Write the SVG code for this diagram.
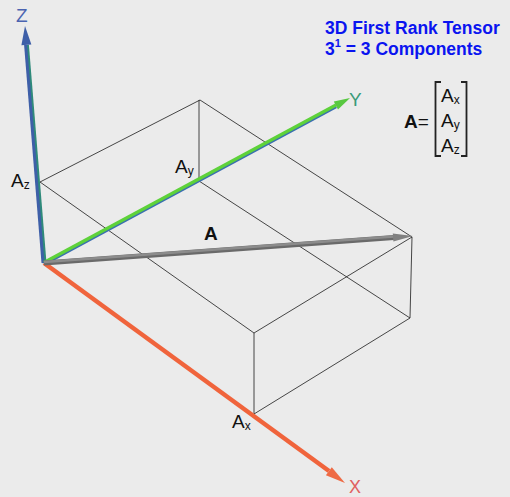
<svg xmlns="http://www.w3.org/2000/svg" width="510" height="497" viewBox="0 0 510 497">
<defs>
<style>
.edge{stroke:#1a1a1a;stroke-width:0.8;fill:none}
.lbl{font-family:"Liberation Sans",Arial,sans-serif;font-size:19px;fill:#111}
.sub{font-size:12px}
.title{font-family:"Liberation Sans",Arial,sans-serif;font-size:17.5px;font-weight:bold;fill:#0a14f0}
.br{stroke:#222;stroke-width:1.8;fill:none}
</style>
</defs>
<rect x="0" y="0" width="510" height="497" fill="#ebebeb"/>
<g id="box">
<line class="edge" x1="40" y1="182" x2="200" y2="100"/>
<line class="edge" x1="200" y1="100" x2="412" y2="237"/>
<line class="edge" x1="40" y1="182" x2="254" y2="333"/>
<line class="edge" x1="254" y1="333" x2="412" y2="237"/>
<line class="edge" x1="199" y1="181" x2="199" y2="100"/>
<line class="edge" x1="199" y1="181" x2="410" y2="318"/>
<line class="edge" x1="412" y1="237" x2="410" y2="318"/>
<line class="edge" x1="254" y1="414" x2="410" y2="318"/>
<line class="edge" x1="254" y1="414" x2="254" y2="333"/>
</g>
<g id="connectors">
<g id="z-axis">
<line x1="44.5" y1="263" x2="26.9" y2="45" stroke="#2f8a7a" stroke-width="4"/>
<line x1="43" y1="263" x2="25.6" y2="45" stroke="#3e5fa8" stroke-width="3"/>
<polygon points="25,26 31.4,44.5 21.4,45.3" fill="#3e5fa8"/>
</g>
<g id="y-axis">
<line x1="44" y1="263.8" x2="336" y2="106.3" stroke="#3a6fb0" stroke-width="4"/>
<line x1="44" y1="262.5" x2="336" y2="105" stroke="#5ed23a" stroke-width="3.2"/>
<polygon points="350,98 338,109.6 333.8,101.6" fill="#58c840"/>
</g>
<g id="x-axis">
<line x1="44" y1="263" x2="329" y2="471" stroke="#f0643c" stroke-width="4.5"/>
<polygon points="345,483 325.9,475.2 331.8,467.2" fill="#ee6a44"/>
</g>
<g id="a-vector">
<line x1="44" y1="263" x2="394" y2="237.5" stroke="#6a6a6a" stroke-width="5"/>
<line x1="44" y1="262" x2="394" y2="236.5" stroke="#8c8c8c" stroke-width="2.5"/>
<polygon points="413,236 393.4,241.5 392.8,233.5" fill="#808080"/>
</g>
</g>
<g id="axis-labels">
<text x="16" y="22" font-family="Liberation Sans,Arial,sans-serif" font-size="19" fill="#4a63b0">Z</text>
<text x="349" y="106" font-family="Liberation Sans,Arial,sans-serif" font-size="19" fill="#3a9a78">Y</text>
<text x="349" y="493" font-family="Liberation Sans,Arial,sans-serif" font-size="18" fill="#e06060">X</text>
</g>
<g id="component-labels">
<text class="lbl" x="11" y="187">A<tspan class="sub" dy="2">z</tspan></text>
<text class="lbl" x="175" y="173">A<tspan class="sub" dy="2">y</tspan></text>
<text class="lbl" x="232" y="428">A<tspan class="sub" dy="2">x</tspan></text>
<text class="lbl" x="204" y="240" font-weight="bold" font-size="17">A</text>
</g>
<g id="title">
<text class="title" x="325" y="34">3D First Rank Tensor</text>
<text class="title" x="325" y="55">3<tspan font-size="11" dy="-8">1</tspan><tspan dy="8"> = 3 Components</tspan></text>
</g>
<g id="matrix">
<text class="lbl" x="404" y="128" font-size="18"><tspan font-weight="bold">A</tspan>=</text>
<path class="br" d="M441,82 H435.5 V156 H441"/>
<path class="br" d="M461,82 H466.5 V156 H461"/>
<text class="lbl" x="441" y="102" font-size="18">A<tspan class="sub" dy="2">x</tspan></text>
<text class="lbl" x="441" y="127" font-size="18">A<tspan class="sub" dy="2">y</tspan></text>
<text class="lbl" x="441" y="152" font-size="18">A<tspan class="sub" dy="2">z</tspan></text>
</g>
</svg>
